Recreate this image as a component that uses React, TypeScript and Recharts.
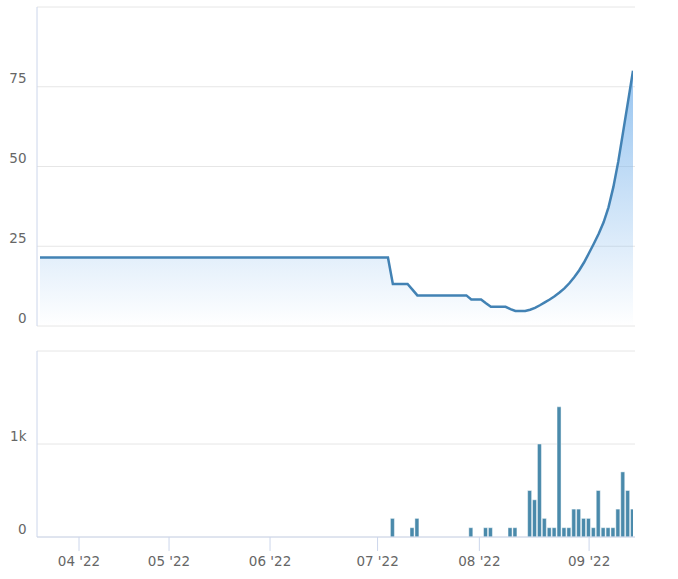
import React from 'react';
import { AreaChart, Area, XAxis, YAxis, CartesianGrid, BarChart, Bar } from 'recharts';

const priceValues: number[] = [
  21.5, 21.5, 21.5, 21.5, 21.5, 21.5, 21.5, 21.5, 21.5,
  21.5, 21.5, 21.5, 21.5, 21.5, 21.5, 21.5, 21.5, 21.5,
  21.5, 21.5, 21.5, 21.5, 21.5, 21.5, 21.5, 21.5, 21.5,
  21.5, 21.5, 21.5, 21.5, 21.5, 21.5, 21.5, 21.5, 21.5,
  21.5, 21.5, 21.5, 21.5, 21.5, 21.5, 21.5, 21.5, 21.5,
  21.5, 21.5, 21.5, 21.5, 21.5, 21.5, 21.5, 21.5, 21.5,
  21.5, 21.5, 21.5, 21.5, 21.5, 21.5, 21.5, 21.5, 21.5,
  21.5, 21.5, 21.5, 21.5, 21.5, 21.5, 21.5, 21.5, 21.5,
  13.2, 13.2, 13.2, 13.2, 11.4,
  9.6, 9.6, 9.6, 9.6, 9.6, 9.6, 9.6, 9.6, 9.6, 9.6, 9.6,
  8.3, 8.3, 8.3, 7.1, 6.0, 6.0, 6.0, 6.0, 5.3, 4.7, 4.7, 4.7,
  5.1, 5.7, 6.5, 7.4, 8.3, 9.3, 10.5, 11.8, 13.4, 15.3,
  17.4, 19.9, 22.8, 25.8, 28.9, 32.5, 37.2, 43.6, 51.6, 61.0,
  70.5, 80.0,
];

const volumeValues: number[] = [
  0, 0, 0, 0, 0, 0, 0, 0, 0, 0,
  0, 0, 0, 0, 0, 0, 0, 0, 0, 0,
  0, 0, 0, 0, 0, 0, 0, 0, 0, 0,
  0, 0, 0, 0, 0, 0, 0, 0, 0, 0,
  0, 0, 0, 0, 0, 0, 0, 0, 0, 0,
  0, 0, 0, 0, 0, 0, 0, 0, 0, 0,
  0, 0, 0, 0, 0, 0, 0, 0, 0, 0,
  0, 0, 200, 0, 0, 0, 100, 200, 0, 0,
  0, 0, 0, 0, 0, 0, 0, 0, 100, 0,
  0, 100, 100, 0, 0, 0, 100, 100, 0, 0,
  500, 400, 1000, 200, 100, 100, 1400, 100, 100, 300,
  300, 200, 200, 100, 500, 100, 100, 100, 300, 700,
  500, 300,
];

const monthTickPositions: number[] = [7.96, 26.33, 46.94, 68.88, 89.65, 112.04];
const monthTickLabels: string[] = ["04 '22", "05 '22", "06 '22", "07 '22", "08 '22", "09 '22"];
const priceTicks: number[] = [0, 25, 50, 75, 100];
const volumeTicks: number[] = [0, 1000, 2000];

const data = priceValues.map((p, i) => ({ i, price: p, volume: volumeValues[i] }));

const FONT = '"DejaVu Sans", sans-serif';
const LABEL = '#666666';
const AXIS = '#ccd6eb';
const GRID = '#e6e6e6';

const makeYTick = (hidden: number, fmt: (v: number) => string) => (props: any) => {
  const { y, payload } = props;
  if (payload.value === hidden) return <g />;
  return (
    <text x={26.5} y={y - 3.5} textAnchor="end" fill={LABEL} fontSize={13.5} fontFamily={FONT}>
      {fmt(payload.value)}
    </text>
  );
};

const XTick = (props: any) => {
  const { x, y, payload } = props;
  const idx = monthTickPositions.indexOf(payload.value);
  return (
    <text x={x} y={y + 15} textAnchor="middle" fill={LABEL} fontSize={13.5} fontFamily={FONT}>
      {idx >= 0 ? monthTickLabels[idx] : ''}
    </text>
  );
};

export default function App() {
  return (
    <div style={{ position: 'absolute', left: 0, top: 0, width: 678, height: 579, background: '#fff' }}>
      <div style={{ position: 'absolute', left: 0, top: 0 }}>
        <AreaChart width={678} height={340} data={data} margin={{ top: 7, right: 43, left: 0, bottom: 14 }}>
          <defs>
            <linearGradient id="priceFill" x1="0" y1="0" x2="0" y2="1">
              <stop offset="0%" stopColor="#7cb5ec" stopOpacity={0.8} />
              <stop offset="100%" stopColor="#7cb5ec" stopOpacity={0} />
            </linearGradient>
          </defs>
          <CartesianGrid horizontal vertical={false} stroke={GRID} />
          <XAxis
            dataKey="i"
            type="number"
            domain={[0, 121]}
            padding={{ left: 3, right: 2 }}
            hide
            allowDataOverflow
          />
          <YAxis
            type="number"
            domain={[0, 100]}
            ticks={priceTicks}
            width={37}
            axisLine={{ stroke: AXIS }}
            tickLine={false}
            tick={makeYTick(100, (v) => String(v))}
            interval={0}
          />
          <Area
            type="linear"
            dataKey="price"
            stroke="#4282b4"
            strokeWidth={2.5}
            fill="url(#priceFill)"
            fillOpacity={1}
            dot={false}
            activeDot={false}
            isAnimationActive={false}
          />
        </AreaChart>
      </div>
      <div style={{ position: 'absolute', left: 0, top: 340 }}>
        <BarChart width={678} height={239} data={data} margin={{ top: 11, right: 43, left: 0, bottom: 0 }}>
          <CartesianGrid horizontal vertical={false} stroke={GRID} />
          <XAxis
            dataKey="i"
            type="number"
            domain={[0, 121]}
            padding={{ left: 3, right: 2 }}
            ticks={monthTickPositions}
            interval={0}
            height={42}
            axisLine={{ stroke: AXIS }}
            tickLine={{ stroke: AXIS }}
            tickSize={14}
            tickMargin={0}
            tick={<XTick />}
            allowDataOverflow
          />
          <YAxis
            type="number"
            domain={[0, 2000]}
            ticks={volumeTicks}
            width={37}
            axisLine={{ stroke: AXIS }}
            tickLine={false}
            tick={makeYTick(2000, (v) => (v >= 1000 ? `${v / 1000}k` : String(v)))}
            interval={0}
          />
          <Bar
            dataKey="volume"
            fill="#4a8aab"
            stroke="rgba(255,255,255,0.45)"
            strokeWidth={1}
            barSize={4}
            isAnimationActive={false}
          />
        </BarChart>
      </div>
    </div>
  );
}
